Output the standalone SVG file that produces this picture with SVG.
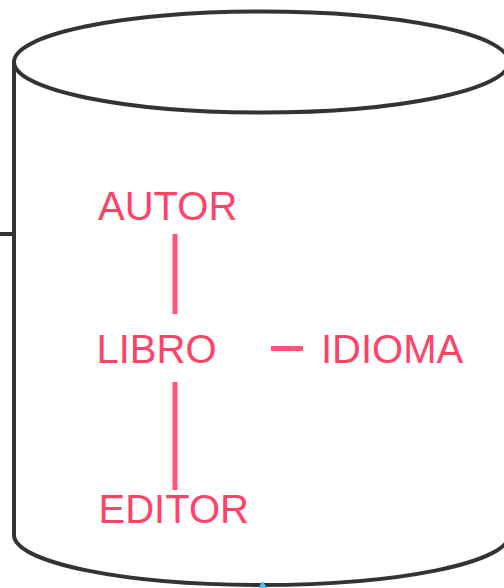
<svg xmlns="http://www.w3.org/2000/svg" width="504" height="588" viewBox="0 0 504 588">
  <style>
    .cyl { fill: #ffffff; stroke: #333333; stroke-width: 4; }
    .lbl { font-family: "Liberation Sans", Arial, sans-serif; font-size: 40px; fill: #ff4268; }
    .rel { stroke: #ff5575; stroke-width: 5; fill: none; }
    .edge { stroke: #333333; stroke-width: 4; fill: none; }
  </style>
  <rect width="504" height="588" fill="#ffffff"/>
  <g id="cylinder">
    <path class="cyl" d="M14,62 L14,535 A247.5,50 0 0 0 509,535 L509,62"/>
    <ellipse class="cyl" cx="261.5" cy="62" rx="247.5" ry="50.5"/>
  </g>
  <g id="connectors">
    <line class="edge" x1="0" y1="234" x2="14" y2="234"/>
    <line class="rel" x1="175" y1="234" x2="175" y2="314"/>
    <line class="rel" x1="175" y1="382" x2="175" y2="490"/>
    <line class="rel" x1="271" y1="348.5" x2="303" y2="348.5"/>
    <polygon points="258.5,588 262.7,581 267,588" fill="#4fc3f7"/>
  </g>
  <g id="autor"><text class="lbl" x="98" y="220">AUTOR</text></g>
  <g id="libro"><text class="lbl" x="96.5" y="363">LIBRO</text></g>
  <g id="idioma"><text class="lbl" x="321" y="363">IDIOMA</text></g>
  <g id="editor"><text class="lbl" x="98.5" y="523">EDITOR</text></g>
</svg>
